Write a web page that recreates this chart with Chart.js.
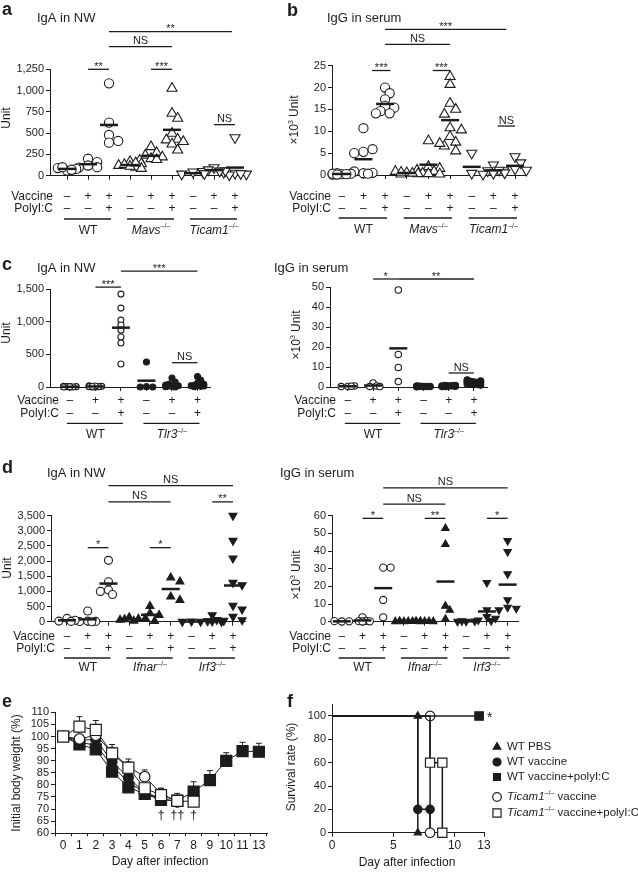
<!DOCTYPE html>
<html>
<head>
<meta charset="utf-8">
<script src="https://cdn.jsdelivr.net/npm/chart.js@4.4.1/dist/chart.umd.min.js"></script>
<style>
  body { margin: 0; width: 638px; height: 872px; position: relative; overflow: hidden; background: #fff; }
  canvas { position: absolute; }
</style>
</head>
<body>
<script>
// ---------- data ----------
// a: IgA in NW (Unit), groups = WT, Mavs-/-, Ticam1-/-  x  (-/-, vac, vac+polyI:C)
const igaNwA = [
  [60, 80, 90, 70, 100],
  [200, 160, 120, 95, 100],
  [1085, 623, 478, 388, 408],
  [165, 140, 120, 100, 130, 110, 85, 150],
  [340, 270, 240, 220, 200, 180, 190],
  [1027, 733, 674, 498, 427, 420, 400, 372, 300],
  [45, 25, 20],
  [95, 60, 50, 55, 70],
  [447, 30, 20, 40, 25, 10]
];
// b: IgG in serum (x10^3 Unit)
const iggSerumB = [
  [0.2, 0.3, 0.1, 0.4, 0.2, 0.3, 0.1],
  [10.7, 5.3, 5.9, 5.0, 0.4, 0.5, 0.8, 0.3],
  [20.0, 18.7, 17.3, 15.8, 15.4, 14.6, 14.1, 14.1],
  [0.5, 0.3, 0.8, 0.2, 0.4, 0.6],
  [7.8, 7.2, 1.9, 1.5, 1.1, 0.8, 0.4, 0.3, 0.2],
  [22.5, 20.7, 16.4, 15.0, 13.9, 10.8, 10.3, 8.8, 7.5, 6.6, 5.5],
  [5.0, 0.4, 0.2],
  [2.3, 1.1, 1.0, 0.5, 0.4],
  [4.2, 2.8, 1.4, 1.1, 1.0]
];
// c: WT, Tlr3-/-
const igaNwC = [
  [0, 5, 10, 0, 5, 0, 8, 3],
  [0, 10, 20, 5, 0, 15, 5, 8],
  [1422, 1208, 1024, 948, 870, 765, 673, 352],
  [382, 5, 0, 0],
  [138, 76, 40, 20, 10, 5, 0, 15, 25, 30],
  [160, 107, 60, 40, 20, 10, 5, 30, 25, 15]
];
const iggSerumC = [
  [0.3, 0.5, 0.2, 0.4],
  [2.0, 0.5, 0.3, 0.2],
  [48.5, 16.3, 9.8, 2.7],
  [0.2, 0.3, 0.1, 0.4, 0.2, 0.5, 0.3],
  [0.5, 0.8, 0.3, 0.6, 0.2, 0.4, 0.7, 0.5],
  [2.5, 3.0, 1.5, 2.0, 1.0, 3.5, 2.8, 1.8, 2.2, 1.2, 2.6]
];
// d: WT, Ifnar-/-, Irf3-/-
const igaNwD = [
  [110, 50, 20, 10],
  [352, 20, 10, 5, 0],
  [2026, 1321, 1046, 900, 1000],
  [140, 90, 60, 80, 30],
  [517, 275, 220, 110, 22],
  [1453, 1321, 826, 715],
  [10, 5, 0],
  [220, 60, 20, 0, 10],
  [3500, 2675, 2092, 1288, 1211, 528, 407, 165, 55, 33]
];
const iggSerumD = [
  [0.1, 0.2, 0.3],
  [2.5, 0.5, 0.3, 0.2, 0.1],
  [30.6, 30.6, 12.3, 2.5],
  [0.1, 0.2, 0.1, 0.3, 0.2],
  [0.2, 0.1, 0.3, 0.2, 0.1, 0.2],
  [52.8, 43.8, 8.9, 6.6, 1.5],
  [0.2, 0.3, 0.1, 0.4],
  [22.1, 6.6, 2.8, 1.9, 0.9, 0.5],
  [45.8, 39.6, 27.0, 12.3, 8.1, 7.5, 6.6]
];

const vaccineRow = ['–', '+', '+'];
const polyicRow = ['–', '–', '+'];
const genotypesA = ['WT', 'Mavs', 'Ticam1'];
const genotypesC = ['WT', 'Tlr3'];
const genotypesD = ['WT', 'Ifnar', 'Irf3'];

// significance bars: [from group, to group, level (axis units), label]
const sigA = [[1, 2, 1250, '**'], [4, 5, 1250, '***'], [7, 8, 600, 'NS'], [2, 5, 1517, 'NS'], [2, 7.85, 1693, '**']];
const sigB = [[1.4, 2.25, 23.9, '***'], [4.2, 5, 23.9, '***'], [7.2, 8, 11.2, 'NS'], [2, 5, 29.9, 'NS'], [2, 7.6, 33.3, '***']];
const sigCL = [[1, 2, 1529, '***'], [2, 5, 1774, '***'], [4, 5, 372, 'NS']];
const sigCR = [[1, 2, 54, '*'], [2, 5, 54, '**'], [4, 5, 7, 'NS']];
const sigDL = [[1, 2, 2445, '*'], [4, 5, 2445, '*'], [7, 8, 3956, '**'], [2, 5, 3956, 'NS'], [2, 8, 4494, 'NS']];
const sigDR = [[1, 2, 58.5, '*'], [4, 5, 58.5, '**'], [7, 8, 58.5, '*'], [2, 5, 66.6, 'NS'], [2, 8, 75.8, 'NS']];

// e: body weight (%) by day
const dayLabels = ['0', '1', '2', '3', '4', '5', '6', '7', '8', '9', '10', '11', '13'];
const wtPbsWeight = [100, 97.5, 96.5, 88, 81, 77, 74];
const wtVacWeight = [100, 98.4, 98.8, 89.6, 83, 76.8, 74.5, 73];
const wtVacPicWeight = [100, 96.7, 94.7, 85.5, 79, 76.3, 73.8, 73.5, 77.2, 82, 89.9, 94, 93.7];
const ticamVacWeight = [100, 99, 100.5, 93.5, 87.5, 83.4, 76.5, 73];
const ticamVacPicWeight = [100, 104.1, 102.7, 93, 87.1, 78.6, 75.8, 73.4, 73.1];
const wtVacPicSd = [0, 0, 0, 0, 0, 0, 0, 0, 4.1, 3.9, 3.4, 3.6, 3.5];
const ticamVacSd = [0, 0, 0, 0, 0, 2.8, 2.1, 0];
const ticamVacPicSd = [0, 4.1, 3.9, 3.7, 3.6, 0, 0, 3.1, 0];
const deathDayIdx = [6, 7, 7, 8];
const deathLevel = 67.4;

// f: survival (%)
const pbsSurvDay = [0, 7, 7], pbsSurv = [100, 100, 0], pbsMark = [0, 1, 1];
const wtVacSurvDay = [0, 7, 7, 8, 8], wtVacSurv = [100, 100, 20, 20, 0], wtVacMark = [0, 0, 1, 1, 0];
const wtVacPicSurvDay = [0, 12], wtVacPicSurv = [100, 100], wtVacPicMark = [0, 1];
const ticamVacSurvDay = [0, 8, 8], ticamVacSurv = [100, 100, 0], ticamVacMark = [0, 1, 1];
const ticamVacPicSurvDay = [0, 8, 8, 9, 9], ticamVacPicSurv = [100, 100, 60, 60, 0], ticamVacPicMark = [0, 0, 1, 1, 1];
const survTickVals = [0, 5, 10, 12.4];
const survTickLabels = ['0', '5', '10', '13'];

// ---------- helpers ----------
const FONT = "'Liberation Sans', Arial, Helvetica, sans-serif";
const INK = '#1c1c1c';
Chart.defaults.font.family = FONT;
Chart.defaults.color = INK;

const mean = a => a.reduce((s, v) => s + v, 0) / a.length;
const ko = n => [{ t: n, italic: true }, { t: '–/–', sup: true }];
const geno = n => (n === 'WT' ? [{ t: 'WT' }] : ko(n));

function rich(ctx, parts, x, y, size, align) {
  const segs = parts.map(p => {
    const fs = p.sup ? Math.round(size * 0.62) : size;
    const font = (p.italic ? 'italic ' : '') + fs + 'px ' + FONT;
    ctx.font = font;
    return { p, font, w: ctx.measureText(p.t).width };
  });
  const total = segs.reduce((s, g) => s + g.w, 0);
  let cx = align === 'center' ? x - total / 2 : align === 'right' ? x - total : x;
  ctx.textAlign = 'left';
  segs.forEach(g => {
    ctx.font = g.font;
    ctx.fillText(g.p.t, cx, g.p.sup ? y - size * 0.35 : y);
    cx += g.w;
  });
}

function marker(ctx, style, fill, x, y, r) {
  ctx.beginPath();
  if (style === 'circle') ctx.arc(x, y, r, 0, Math.PI * 2);
  else if (style === 'rect') { const s = r * Math.SQRT1_2; ctx.rect(x - s, y - s, 2 * s, 2 * s); }
  else {
    ctx.moveTo(x, y - r);
    ctx.lineTo(x + r * 0.866, y + r * 0.5);
    ctx.lineTo(x - r * 0.866, y + r * 0.5);
    ctx.closePath();
  }
  ctx.fillStyle = fill ? INK : '#fff';
  ctx.fill();
  ctx.lineWidth = 1.2;
  ctx.strokeStyle = INK;
  ctx.stroke();
  ctx.fillStyle = INK;
}

function makeCanvas(box) {
  const c = document.createElement('canvas');
  c.width = box.w; c.height = box.h;
  c.style.left = box.x + 'px'; c.style.top = box.y + 'px';
  document.body.appendChild(c);
  return c.getContext('2d');
}

// compact beeswarm: overlapping dots get nudged sideways a little
function swarm(vals, g, unitsPerPx, pxPerGroup, diam, maxK) {
  const placed = [];
  const step = diam * 0.45, need = diam * 0.6;
  return vals.map(v => {
    const py = v / unitsPerPx;
    let best = 0, bestD = -1;
    for (let k = 0; k <= maxK * 2; k++) {
      const off = (k % 2 ? 1 : -1) * Math.ceil(k / 2) * step;
      let dmin = Infinity;
      placed.forEach(p => { dmin = Math.min(dmin, Math.hypot(p[0] - off, p[1] - py)); });
      if (dmin >= need) { best = off; break; }
      if (dmin > bestD) { bestD = dmin; best = off; }
    }
    placed.push([best, py]);
    return { x: g + best / pxPerGroup, y: v };
  });
}

// draws titles, significance bars, tables, error bars, legend
const decor = {
  id: 'decor',
  beforeDatasetsDraw(chart) {
    const ctx = chart.ctx, ys = chart.scales.y;
    ctx.save();
    ctx.strokeStyle = INK; ctx.lineWidth = 1;
    chart.data.datasets.forEach((d, di) => {
      if (!d.sd) return;
      const meta = chart.getDatasetMeta(di);
      d.sd.forEach((e, i) => {
        if (!e) return;
        const el = meta.data[i];
        const top = ys.getPixelForValue(d.data[i] + e);
        ctx.beginPath();
        ctx.moveTo(el.x, el.y); ctx.lineTo(el.x, top);
        ctx.moveTo(el.x - 3, top); ctx.lineTo(el.x + 3, top);
        ctx.stroke();
      });
    });
    ctx.restore();
  },
  afterDraw(chart) {
    const o = chart.options.plugins.decor;
    const ctx = chart.ctx, xs = chart.scales.x, ys = chart.scales.y;
    const bx = o.box.x, by = o.box.y;
    ctx.save();
    ctx.fillStyle = INK; ctx.strokeStyle = INK; ctx.textBaseline = 'middle';

    if (o.letter) {
      ctx.font = 'bold 18px ' + FONT; ctx.textAlign = 'left';
      ctx.fillText(o.letter[0], o.letter[1] - bx, o.letter[2] - by);
    }
    if (o.title) rich(ctx, [{ t: o.title[0] }], o.title[1] - bx, o.title[2] - by, 13, 'left');
    if (o.yTitle) {
      ctx.save();
      ctx.translate(o.yTitle[1] - bx, o.yTitle[2] - by);
      ctx.rotate(-Math.PI / 2);
      rich(ctx, o.yTitle[0], 0, 0, 12, 'center');
      ctx.restore();
    }
    if (o.xTitle) rich(ctx, [{ t: o.xTitle[0] }], o.xTitle[1] - bx, o.xTitle[2] - by, 12, 'center');

    (o.sig || []).forEach(([g1, g2, lvl, lab]) => {
      const x1 = xs.getPixelForValue(g1), x2 = xs.getPixelForValue(g2), y = ys.getPixelForValue(lvl);
      ctx.lineWidth = 1.3;
      ctx.beginPath(); ctx.moveTo(x1, y); ctx.lineTo(x2, y); ctx.stroke();
      ctx.font = '11px ' + FONT; ctx.textAlign = 'center'; ctx.textBaseline = 'alphabetic';
      ctx.fillText(lab, (x1 + x2) / 2, lab.includes('*') ? y + 0.5 : y - 2.5);
      ctx.textBaseline = 'middle';
    });

    if (o.table) {
      const t = o.table;
      ctx.font = '12px ' + FONT; ctx.textAlign = 'right';
      ctx.fillText('Vaccine', t.labelX - bx, t.rows[0] - by);
      ctx.fillText('PolyI:C', t.labelX - bx, t.rows[1] - by);
      t.genotypes.forEach((gname, k) => {
        vaccineRow.forEach((s, j) => {
          const x = xs.getPixelForValue(k * 3 + j);
          ctx.font = '12px ' + FONT; ctx.textAlign = 'center';
          ctx.fillText(s, x, t.rows[0] - by);
          ctx.fillText(polyicRow[j], x, t.rows[1] - by);
        });
        const xa = xs.getPixelForValue(k * 3), xb = xs.getPixelForValue(k * 3 + 2);
        ctx.lineWidth = 1.3;
        ctx.beginPath(); ctx.moveTo(xa - 3, t.lineY - by); ctx.lineTo(xb + 2, t.lineY - by); ctx.stroke();
        rich(ctx, geno(gname), (xa + xb) / 2, t.nameY - by, 12, 'center');
      });
    }

    if (o.daggers) {
      ctx.font = '13px ' + FONT; ctx.textAlign = 'center';
      const seen = {};
      o.daggers.forEach(idx => {
        const n = deathDayIdx.filter(v => v === idx).length;
        seen[idx] = (seen[idx] || 0) + 1;
        const dx = n > 1 ? (seen[idx] - 1.5) * 7 : 0;
        ctx.fillText('†', xs.getPixelForValue(idx) + dx, ys.getPixelForValue(deathLevel));
      });
    }

    if (o.star) {
      ctx.font = '14px ' + FONT; ctx.textAlign = 'left'; ctx.textBaseline = 'alphabetic';
      ctx.fillText('*', xs.getPixelForValue(o.star[0]) + 8, ys.getPixelForValue(o.star[1]) + 6);
      ctx.textBaseline = 'middle';
    }

    if (o.legend) {
      const L = o.legend;
      L.items.forEach((s, i) => {
        marker(ctx, s.style, s.fill, L.x - bx, L.ys[i] - by, s.rl);
        rich(ctx, s.name, L.textX - bx, L.ys[i] - by, 11.5, 'left');
      });
    }
    ctx.restore();
  }
};

function yAxis(lo, hi, step, width, fmt) {
  return {
    type: 'linear', min: lo, max: hi,
    ticks: { stepSize: step, includeBounds: false, autoSkip: false, padding: 2, color: INK, font: { size: 11, family: FONT }, callback: fmt },
    grid: { drawOnChartArea: false, drawTicks: true, tickLength: 4, color: INK, lineWidth: 1 },
    border: { display: true, color: INK, width: 1 },
    afterFit: s => { s.width = width; }
  };
}

const MARKS = {
  o: { style: 'circle', fill: false, rot: 0 },
  O: { style: 'circle', fill: true, rot: 0 },
  '^': { style: 'triangle', fill: false, rot: 0 },
  A: { style: 'triangle', fill: true, rot: 0 },
  v: { style: 'triangle', fill: false, rot: 180 },
  V: { style: 'triangle', fill: true, rot: 180 }
};

function dotPanel(P) {
  const ctx = makeCanvas(P.box);
  const unitsPerPx = (P.y[1] - P.y[0]) / (P.area.b - P.area.t);
  const pxPerGroup = (P.area.r - P.area.l) / (P.x[1] - P.x[0]);
  const datasets = [{
    data: P.groups.map((v, i) => ({ x: i, y: mean(v) })),
    pointStyle: 'line', pointRadius: 9, pointBorderWidth: 2.5,
    pointBorderColor: INK, borderColor: INK, showLine: false, clip: false
  }];
  P.groups.forEach((vals, g) => {
    const m = MARKS[P.marks[Math.floor(g / 3)]];
    const r = m.style === 'circle' ? P.rc : P.rt;
    datasets.push({
      data: swarm(vals, g, unitsPerPx, pxPerGroup, r * 2 + 1, 2),
      pointStyle: m.style, rotation: m.rot, pointRotation: m.rot, pointRadius: r,
      pointBackgroundColor: m.fill ? INK : '#fff', pointBorderColor: INK,
      pointBorderWidth: 1.1, showLine: false, clip: false
    });
  });
  new Chart(ctx, {
    type: 'scatter',
    data: { datasets },
    options: {
      responsive: false, animation: false, events: [], devicePixelRatio: 1,
      layout: { autoPadding: false, padding: { left: 0, top: P.area.t - P.box.y, right: P.box.x + P.box.w - P.area.r, bottom: 0 } },
      plugins: {
        legend: { display: false }, tooltip: { enabled: false },
        decor: {
          box: P.box, letter: P.letter, title: P.title, yTitle: P.yTitle, sig: P.sig,
          table: Object.assign({ genotypes: P.genotypes }, P.table)
        }
      },
      scales: {
        x: {
          type: 'linear', min: P.x[0], max: P.x[1],
          afterBuildTicks: s => { s.ticks = P.groups.map((_, i) => ({ value: i })); },
          ticks: { display: false },
          grid: { drawOnChartArea: false, drawTicks: true, tickLength: 4, color: INK, lineWidth: 1 },
          border: { display: true, color: INK, width: 1 },
          afterFit: s => { s.height = P.box.y + P.box.h - P.area.b; }
        },
        y: yAxis(P.y[0], P.y[1], P.y[2], P.area.l - P.box.x, v => v.toLocaleString('en-US'))
      }
    },
    plugins: [decor]
  });
}

const unitTitle = [{ t: 'Unit' }];
const kUnitTitle = [{ t: '×10' }, { t: '3', sup: true }, { t: ' Unit' }];

dotPanel({
  box: { x: 0, y: 0, w: 320, h: 250 }, area: { l: 50, t: 69.3, r: 247, b: 175.7 },
  x: [-0.81, 8.57], y: [0, 1250, 250], groups: igaNwA, marks: ['o', '^', 'v'], rc: 4.6, rt: 5.8,
  letter: ['a', 2, 10], title: ['IgA in NW', 37, 18], yTitle: [unitTitle, 7, 118], sig: sigA,
  genotypes: genotypesA, table: { labelX: 53, rows: [197, 208.5], lineY: 219, nameY: 230.5 }
});
dotPanel({
  box: { x: 270, y: 0, w: 368, h: 250 }, area: { l: 332, t: 65.7, r: 525, b: 175 },
  x: [-0.45, 8.46], y: [0, 25, 5], groups: iggSerumB, marks: ['o', '^', 'v'], rc: 4.6, rt: 5.8,
  letter: ['b', 287, 11], title: ['IgG in serum', 327, 18], yTitle: [kUnitTitle, 295, 120], sig: sigB,
  genotypes: genotypesA, table: { labelX: 331, rows: [197, 208.5], lineY: 218, nameY: 230 }
});
dotPanel({
  box: { x: 0, y: 245, w: 270, h: 205 }, area: { l: 50, t: 289, r: 210, b: 387 },
  x: [-0.78, 5.49], y: [0, 1500, 500], groups: igaNwC, marks: ['o', 'O'], rc: 3, rt: 3.5,
  letter: ['c', 2, 265], title: ['IgA in NW', 37, 268], yTitle: [unitTitle, 7, 333], sig: sigCL,
  genotypes: genotypesC, table: { labelX: 59, rows: [400.7, 414], lineY: 423.3, nameY: 435 }
});
dotPanel({
  box: { x: 270, y: 245, w: 368, h: 205 }, area: { l: 330, t: 287, r: 487, b: 387 },
  x: [-0.71, 5.52], y: [0, 50, 10], groups: iggSerumC, marks: ['o', 'O'], rc: 3.2, rt: 3.5,
  title: ['IgG in serum', 274, 268], yTitle: [kUnitTitle, 297, 335], sig: sigCR,
  genotypes: genotypesC, table: { labelX: 336, rows: [400.7, 414], lineY: 423.3, nameY: 435 }
});
dotPanel({
  box: { x: 0, y: 450, w: 270, h: 240 }, area: { l: 51, t: 515.7, r: 245, b: 621.7 },
  x: [-0.77, 8.58], y: [0, 3500, 500], groups: igaNwD, marks: ['o', 'A', 'V'], rc: 4, rt: 4.6,
  letter: ['d', 2, 468], title: ['IgA in NW', 47, 473], yTitle: [unitTitle, 7.5, 568], sig: sigDL,
  genotypes: genotypesD, table: { labelX: 55, rows: [636.7, 648.5], lineY: 658, nameY: 668 }
});
dotPanel({
  box: { x: 270, y: 450, w: 368, h: 240 }, area: { l: 332, t: 515.7, r: 518, b: 621.7 },
  x: [-0.47, 8.5], y: [0, 60, 10], groups: iggSerumD, marks: ['o', 'A', 'V'], rc: 3.6, rt: 4.3,
  title: ['IgG in serum', 280, 473], yTitle: [kUnitTitle, 297, 575], sig: sigDR,
  genotypes: genotypesD, table: { labelX: 331, rows: [636.7, 648.5], lineY: 658, nameY: 668 }
});

// ---------- e / f ----------
const SERIES = {
  pbs: { name: [{ t: 'WT PBS' }], style: 'triangle', fill: true, re: 5, rf: 4.2, rl: 4.4 },
  wtVac: { name: [{ t: 'WT vaccine' }], style: 'circle', fill: true, re: 5, rf: 4.2, rl: 4 },
  wtVacPic: { name: [{ t: 'WT vaccine+polyI:C' }], style: 'rect', fill: true, re: 7.8, rf: 6, rl: 4.9 },
  ticamVac: { name: [...ko('Ticam1'), { t: ' vaccine' }], style: 'circle', fill: false, re: 5.2, rf: 4.8, rl: 4.3 },
  ticamVacPic: { name: [...ko('Ticam1'), { t: ' vaccine+polyI:C' }], style: 'rect', fill: false, re: 7.8, rf: 6.5, rl: 5.7 }
};

function seriesStyle(key) {
  const s = SERIES[key];
  return {
    pointStyle: s.style, pointBackgroundColor: s.fill ? INK : '#fff', pointBorderColor: INK,
    pointBorderWidth: 1.2, borderColor: INK, backgroundColor: INK, clip: false
  };
}

(function bodyWeight() {
  const box = { x: 0, y: 690, w: 280, h: 182 }, area = { l: 55, t: 712.3, r: 267, b: 833.3 };
  const ctx = makeCanvas(box);
  const mk = (key, data, sd) => Object.assign({ data, sd, pointRadius: SERIES[key].re, borderWidth: 1 }, seriesStyle(key));
  new Chart(ctx, {
    type: 'line',
    data: {
      labels: dayLabels,
      datasets: [
        mk('ticamVacPic', ticamVacPicWeight, ticamVacPicSd),
        mk('ticamVac', ticamVacWeight, ticamVacSd),
        mk('wtVacPic', wtVacPicWeight, wtVacPicSd),
        mk('wtVac', wtVacWeight, null),
        mk('pbs', wtPbsWeight, null)
      ]
    },
    options: {
      responsive: false, animation: false, events: [], devicePixelRatio: 1,
      layout: { autoPadding: false, padding: { left: 0, top: area.t - box.y, right: box.x + box.w - area.r, bottom: 0 } },
      plugins: {
        legend: { display: false }, tooltip: { enabled: false },
        decor: {
          box, letter: ['e', 2, 702], yTitle: [[{ t: 'Initial body weight (%)' }], 17, 773],
          xTitle: ['Day after infection', 160, 862], daggers: deathDayIdx
        }
      },
      scales: {
        x: {
          type: 'category', offset: true,
          ticks: { padding: 2, color: INK, font: { size: 12, family: FONT }, maxRotation: 0, autoSkip: false },
          grid: { offset: true, drawOnChartArea: false, drawTicks: true, tickLength: 3, color: INK },
          border: { display: true, color: INK, width: 1 },
          afterFit: s => { s.height = box.y + box.h - area.b; }
        },
        y: yAxis(60, 110, 5, area.l - box.x, v => v)
      }
    },
    plugins: [decor]
  });
})();

(function survival() {
  const box = { x: 280, y: 690, w: 358, h: 182 }, area = { l: 332, t: 704.3, r: 484, b: 832.7 };
  const ctx = makeCanvas(box);
  const mk = (key, days, pct, shown) => Object.assign({
    data: days.map((d, i) => ({ x: d, y: pct[i] })),
    pointRadius: shown.map(f => (f ? SERIES[key].rf : 0)),
    showLine: true, borderWidth: 1.5
  }, seriesStyle(key));
  new Chart(ctx, {
    type: 'scatter',
    data: {
      datasets: [
        mk('wtVacPic', wtVacPicSurvDay, wtVacPicSurv, wtVacPicMark),
        mk('ticamVacPic', ticamVacPicSurvDay, ticamVacPicSurv, ticamVacPicMark),
        mk('ticamVac', ticamVacSurvDay, ticamVacSurv, ticamVacMark),
        mk('wtVac', wtVacSurvDay, wtVacSurv, wtVacMark),
        mk('pbs', pbsSurvDay, pbsSurv, pbsMark)
      ]
    },
    options: {
      responsive: false, animation: false, events: [], devicePixelRatio: 1,
      layout: { autoPadding: false, padding: { left: 0, top: area.t - box.y, right: box.x + box.w - area.r, bottom: 0 } },
      plugins: {
        legend: { display: false }, tooltip: { enabled: false },
        decor: {
          box, letter: ['f', 287, 702], yTitle: [[{ t: 'Survival rate (%)' }], 292, 767],
          xTitle: ['Day after infection', 407, 863],
          star: [wtVacPicSurvDay[wtVacPicSurvDay.length - 1], wtVacPicSurv[wtVacPicSurv.length - 1]],
          legend: {
            x: 497, textX: 507, ys: [747, 762, 777, 797, 813],
            items: ['pbs', 'wtVac', 'wtVacPic', 'ticamVac', 'ticamVacPic'].map(k => SERIES[k])
          }
        }
      },
      scales: {
        x: {
          type: 'linear', min: 0, max: survTickVals[survTickVals.length - 1],
          afterBuildTicks: s => { s.ticks = survTickVals.map(v => ({ value: v })); },
          ticks: { padding: 2, color: INK, font: { size: 12, family: FONT }, callback: (v, i) => survTickLabels[i] },
          grid: { drawOnChartArea: false, drawTicks: true, tickLength: 4, color: INK },
          border: { display: true, color: INK, width: 1 },
          afterFit: s => { s.height = box.y + box.h - area.b; }
        },
        y: yAxis(0, 110, 20, area.l - box.x, v => v)
      }
    },
    plugins: [decor]
  });
})();
</script>
</body>
</html>
